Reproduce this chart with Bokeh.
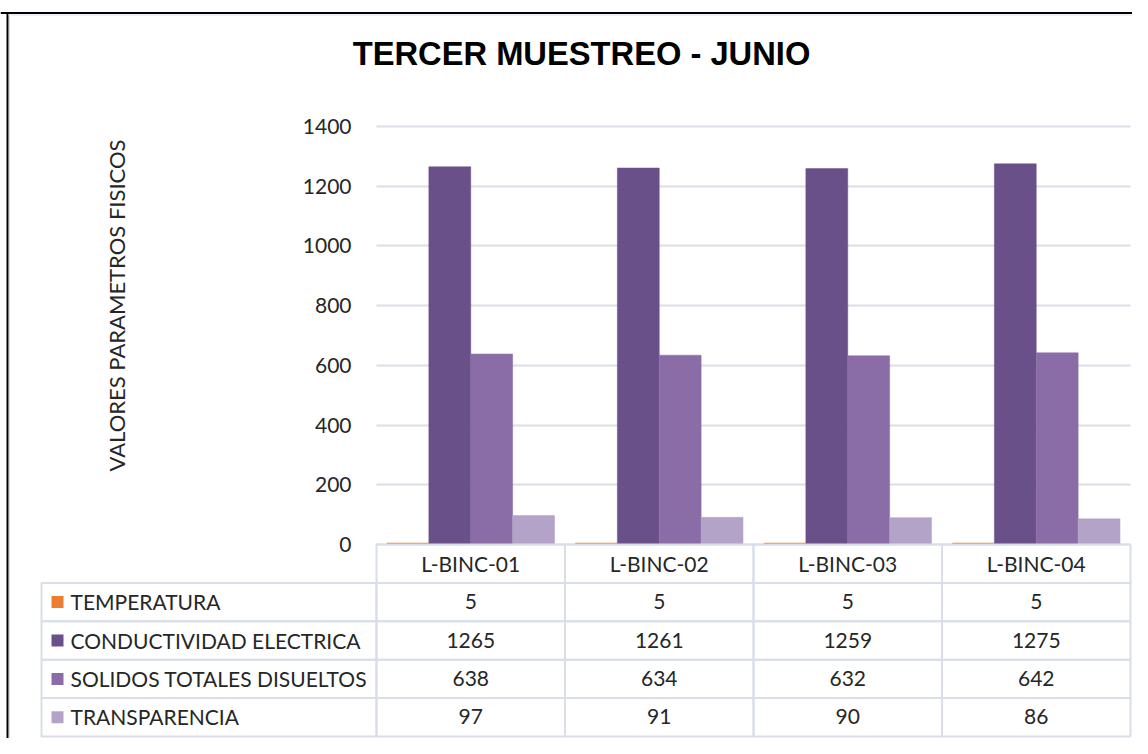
import math
from bokeh.plotting import figure
from bokeh.models import Range1d, FixedTicker, Grid
from bokeh.core.properties import value
from bokeh.embed import file_html
from bokeh.resources import INLINE

# ---------------- data ----------------
chart_title = "TERCER MUESTREO - JUNIO"
y_title = "VALORES PARAMETROS FISICOS"
stations = ["L-BINC-01", "L-BINC-02", "L-BINC-03", "L-BINC-04"]
series_names = ["TEMPERATURA", "CONDUCTIVIDAD ELECTRICA",
                "SOLIDOS TOTALES DISUELTOS", "TRANSPARENCIA"]
temperatura = [5, 5, 5, 5]
conductividad = [1265, 1261, 1259, 1275]
solidos = [638, 634, 632, 642]
transparencia = [97, 91, 90, 86]
y_ticks = [0, 200, 400, 600, 800, 1000, 1200, 1400]

series_values = [temperatura, conductividad, solidos, transparencia]
colors = ["#ed7d31", "#6a5088", "#8a6ca7", "#b3a3c9"]

# ---------------- layout (pixels inside the figure) ----------------
W, H = 1132, 738
PLOT_LEFT, PLOT_RIGHT = 376, 1130
ZERO_Y, TOP_Y = 544, 126
TABLE_BOTTOM = 736
TABLE_LEFT = 41
n_cat = len(stations)
n_ser = len(series_names)
u = (PLOT_RIGHT - PLOT_LEFT) / n_cat
k = (ZERO_Y - TOP_Y) / y_ticks[-1]
x0 = -PLOT_LEFT / u
x1 = x0 + W / u
y1 = ZERO_Y / k
y0 = y1 - H / k


def X(px):
    return (px - PLOT_LEFT) / u


def Y(py):
    return (ZERO_Y - py) / k


RH = (TABLE_BOTTOM - ZERO_Y) / (n_ser + 1)
TEXT_COLOR = "#262626"
BORDER = "#d9dee8"
FONT = "Lato"
FSN = 21
FS = f"{FSN}px"
CAP = 0.7165 * FSN
SHIFT = 0.38  # empirical baseline correction (em)
TITLE_FS = 32.7

p = figure(width=W, height=H, x_range=Range1d(x0, x1), y_range=Range1d(y0, y1),
           output_backend="svg", toolbar_location=None, title=None,
           min_border=0, min_border_left=0, min_border_right=0,
           min_border_top=0, min_border_bottom=0)
p.outline_line_color = None
p.background_fill_color = "white"
p.border_fill_color = "white"
p.xgrid.visible = False

# grid lines
if "cross_bounds" in Grid.properties():
    p.ygrid.ticker = FixedTicker(ticks=y_ticks)
    p.ygrid.cross_bounds = (0, n_cat)
    p.ygrid.grid_line_color = BORDER
    p.ygrid.grid_line_width = 2
else:
    p.ygrid.visible = False
    p.segment(x0=[0] * len(y_ticks), x1=[n_cat] * len(y_ticks), y0=y_ticks, y1=y_ticks,
              line_color=BORDER, line_width=2)

# bars
bw = 1.0 / (n_ser + 0.5)
for j, vals in enumerate(series_values):
    xs = [i + 0.5 + (j - (n_ser - 1) / 2) * bw for i in range(n_cat)]
    p.vbar(x=xs, top=vals, bottom=0, width=bw, fill_color=colors[j],
           line_color=colors[j], line_width=0.5)

# y axis (tick labels) fixed at plot left
ya = p.yaxis[0]
ya.fixed_location = 0
ya.ticker = FixedTicker(ticks=y_ticks)
ya.axis_line_color = None
ya.major_tick_line_color = None
ya.minor_tick_line_color = None
ya.major_label_standoff = 19
ya.major_label_text_font = FONT
ya.major_label_text_font_size = FS
ya.major_label_text_color = TEXT_COLOR

# x axis (category header) fixed at zero
xa = p.xaxis[0]
cat_centers = [i + 0.5 for i in range(n_cat)]
xa.fixed_location = 0
xa.ticker = FixedTicker(ticks=cat_centers)
xa.major_label_overrides = {c: s for c, s in zip(cat_centers, stations)}
xa.axis_line_color = None
xa.major_tick_line_color = None
xa.minor_tick_line_color = None
xa.major_label_standoff = 0
xa.major_label_text_font = FONT
xa.major_label_text_font_size = FS
xa.major_label_text_color = TEXT_COLOR

# data table cells
ql, qr, qt, qb = [], [], [], []
for i in range(n_cat):
    ql.append(i); qr.append(i + 1); qt.append(0); qb.append(Y(ZERO_Y + RH))
for r in range(n_ser):
    top = Y(ZERO_Y + RH * (r + 1))
    bot = Y(ZERO_Y + RH * (r + 2))
    ql.append(X(TABLE_LEFT)); qr.append(0); qt.append(top); qb.append(bot)
    for i in range(n_cat):
        ql.append(i); qr.append(i + 1); qt.append(top); qb.append(bot)
p.quad(left=ql, right=qr, top=qt, bottom=qb, fill_color=None,
       line_color=BORDER, line_width=2)

row_centers = [ZERO_Y + RH * (r + 1.5) for r in range(n_ser)]
base_off = CAP / 2 - SHIFT * FSN

# legend keys and names
p.scatter(x=[X(57)] * n_ser, y=[Y(c) for c in row_centers], marker="square",
          size=12, fill_color=colors, line_color=None)
p.text(x=[X(70)] * n_ser, y=[Y(c + base_off) for c in row_centers], text=series_names,
       text_font=value(FONT), text_font_size=FS, text_color=TEXT_COLOR,
       text_align="left", text_baseline="alphabetic")

# values
tx, ty, tt = [], [], []
for r, vals in enumerate(series_values):
    for i, v in enumerate(vals):
        tx.append(i + 0.5)
        ty.append(Y(row_centers[r] + base_off))
        tt.append(str(v))
p.text(x=tx, y=ty, text=tt, text_font=value(FONT), text_font_size=FS,
       text_color=TEXT_COLOR, text_align="center", text_baseline="alphabetic")

# y title
p.text(x=[X(124 - SHIFT * 22)], y=[Y(305)], text=[y_title], angle=math.pi / 2,
       text_font=value(FONT), text_font_size="22px", text_color=TEXT_COLOR,
       text_align="center", text_baseline="alphabetic")

# chart title
p.text(x=[X(581)], y=[Y(65 - SHIFT * TITLE_FS)], text=[chart_title],
       text_font=value("Liberation Sans"), text_font_style="bold",
       text_font_size=f"{TITLE_FS}px", text_color="black",
       text_align="center", text_baseline="alphabetic")

# outer chart border (left and top)
p.segment(x0=[X(7), x0], x1=[X(7), x1], y0=[Y(12), Y(12.5)], y1=[y0, Y(12.5)],
          line_color="black", line_width=2)
p.segment(x0=[X(9), X(8)], x1=[X(9), x1], y0=[Y(14), Y(14.5)], y1=[y0, Y(14.5)],
          line_color="#dce3ef", line_width=1)

open("out.html", "w").write(file_html(p, INLINE))
